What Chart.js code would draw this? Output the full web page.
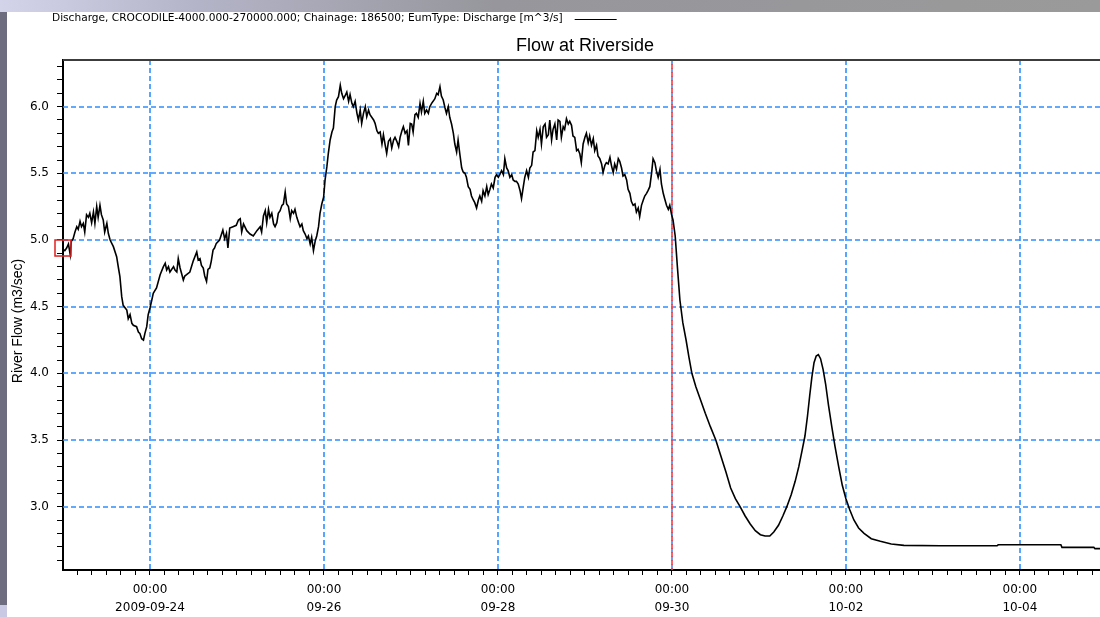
<!DOCTYPE html>
<html>
<head>
<meta charset="utf-8">
<title>Flow at Riverside</title>
<script src="https://cdn.jsdelivr.net/npm/chart.js@4.4.1/dist/chart.umd.min.js"></script>
<style>
  html, body { margin: 0; padding: 0; background: #ffffff; width: 1100px; height: 617px; overflow: hidden; }
  #wrap { position: relative; width: 1100px; height: 617px; background: #ffffff; }
  #flowChart { position: absolute; left: 0; top: 0; }
  #topbar { position: absolute; left: 0; top: 0; width: 1100px; height: 12px; z-index: 2;
            background: linear-gradient(to right, #d3d3ea 0%, #b4b4c8 18%, #96969c 45%, #9a9a9a 100%); }
  #leftbar { position: absolute; left: 0; top: 12px; width: 7px; height: 593px; z-index: 2; background: #6e6c7f; }
  #corner { position: absolute; left: 0; top: 605px; width: 7px; height: 12px; z-index: 2; background: #c9c9e4; }
</style>
</head>
<body>
<div id="wrap">
  <canvas id="flowChart" width="1100" height="617"></canvas>
  <div id="topbar"></div>
  <div id="leftbar"></div>
  <div id="corner"></div>
</div>
<script>
// ---- Text ----
const chartTitle = 'Flow at Riverside';
const seriesLabel = 'Discharge, CROCODILE-4000.000-270000.000; Chainage: 186500; EumType: Discharge [m^3/s]';
const yAxisTitle = 'River Flow (m3/sec)';

// ---- Time axis: hours since 2009-09-23 00:00 ----
const xLabelHours = [24, 72, 120, 168, 216, 264];
const xLabelTimes = ['00:00', '00:00', '00:00', '00:00', '00:00', '00:00'];
const xLabelDates = ['2009-09-24', '09-26', '09-28', '09-30', '10-02', '10-04'];
const currentTimeHour = 168;   // 2009-09-30 00:00

// ---- Value axis ----
const yLabelValues = [3.0, 3.5, 4.0, 4.5, 5.0, 5.5, 6.0];

// ---- Discharge series (m3/sec), hours since 2009-09-23 00:00 ----
const hours0923 = [
  0, 0.5, 1.0, 1.5, 2.0, 2.3, 2.8, 3.3, 3.8, 4.2,
  4.7, 5.1, 5.6, 6.0, 6.5, 7.0, 7.4, 7.9, 8.4, 8.8,
  9.3, 9.7, 10.2, 10.6, 11.1, 11.5, 12.1, 12.5, 13.0, 13.9,
  14.8, 15.3, 15.7, 16.2, 16.6, 17.6, 18.0, 18.5, 19.0, 19.4,
  20.3, 20.8, 21.2, 21.7, 22.2, 22.6, 23.1, 23.5, 24.0, 24.5,
  24.9, 25.8, 26.8, 27.7, 28.2, 28.6, 29.1, 29.5, 30.5, 30.9,
  31.4, 31.8, 32.3, 32.7, 33.2, 33.6, 34.1, 35.0, 35.9, 36.9,
  37.3, 37.8, 38.2, 38.7, 39.1, 39.6, 40.0, 40.5, 40.9, 41.4,
  41.8, 42.3, 43.2, 44.1, 44.6, 45.1, 45.5, 46.0, 46.9, 47.8,
  48.4
];
const flow0923 = [
  4.93, 4.92, 4.94, 4.97, 4.89, 4.99, 5.01, 5.06, 5.10, 5.08,
  5.14, 5.10, 5.125, 5.06, 5.19, 5.17, 5.20, 5.13, 5.21, 5.125,
  5.25, 5.17, 5.26, 5.19, 5.15, 5.06, 5.125, 5.05, 5.00, 4.95,
  4.875, 4.79, 4.725, 4.575, 4.51, 4.475, 4.41, 4.44, 4.375, 4.36,
  4.35, 4.31, 4.30, 4.26, 4.25, 4.30, 4.35, 4.44, 4.49, 4.55,
  4.60, 4.64, 4.74, 4.80, 4.825, 4.775, 4.80, 4.76, 4.80, 4.775,
  4.76, 4.86, 4.79, 4.75, 4.70, 4.73, 4.74, 4.76, 4.84, 4.91,
  4.85, 4.86, 4.81, 4.79, 4.73, 4.69, 4.78, 4.79, 4.84, 4.925,
  4.94, 4.975, 5.00, 5.075, 5.01, 5.05, 4.94, 5.09, 5.10, 5.11,
  5.15
];

const hours0925 = [
  48.9, 49.3, 49.8, 50.7, 51.6, 52.5, 53.5, 54.4, 54.8, 55.3,
  55.8, 56.2, 56.7, 57.1, 57.6, 58.1, 58.5, 59.0, 59.4, 59.9,
  60.4, 60.8, 61.3, 61.7, 62.2, 62.7, 63.1, 63.6, 64.0, 64.5,
  65.0, 65.4, 65.9, 66.3, 66.8, 67.3, 67.7, 68.2, 68.6, 69.1,
  69.6, 70.0, 70.5, 70.9, 71.4, 71.9, 72.3, 72.8, 73.2, 73.7,
  74.2, 74.6, 75.1, 75.5, 76.0, 76.5, 76.9, 77.4, 77.8, 78.3,
  78.8, 79.2, 79.7, 80.1, 80.6, 81.1, 81.5, 82.0, 82.4, 82.9,
  83.4, 83.8, 84.3, 84.7, 85.7, 86.1, 86.6, 87.0, 87.5, 88.0,
  88.4, 88.9, 89.3, 89.8, 90.3, 90.7, 91.2, 91.6, 92.1, 92.6,
  93.0, 93.5, 93.9, 94.4, 94.9, 95.3, 95.8
];
const flow0925 = [
  5.16, 5.06, 5.12, 5.07, 5.045, 5.03, 5.07, 5.10, 5.06, 5.18,
  5.22, 5.13, 5.23, 5.17, 5.20, 5.12, 5.10, 5.13, 5.20, 5.22,
  5.26, 5.27, 5.36, 5.27, 5.25, 5.16, 5.22, 5.20, 5.23, 5.17,
  5.13, 5.10, 5.12, 5.07, 5.045, 5.01, 5.03, 4.97, 5.02, 4.92,
  4.995, 5.03, 5.10, 5.20, 5.27, 5.32, 5.45, 5.55, 5.65, 5.75,
  5.81, 5.84, 6.00, 6.05, 6.075, 6.16, 6.10, 6.06, 6.08, 6.11,
  6.04, 6.09, 6.025, 6.00, 6.04, 5.95, 5.90, 5.975, 5.875, 5.95,
  6.00, 5.925, 5.975, 5.94, 5.90, 5.875, 5.82, 5.80, 5.81, 5.72,
  5.79, 5.71, 5.65, 5.74, 5.76, 5.69, 5.75, 5.77, 5.74, 5.70,
  5.77, 5.82, 5.85, 5.80, 5.82, 5.71, 5.875
];

const hours0927 = [
  96.2, 96.6, 97.1, 97.5, 98.0, 98.5, 98.9, 99.4, 99.8, 100.3,
  100.8, 101.2, 101.7, 102.1, 102.6, 103.1, 103.5, 104.0, 104.4, 104.9,
  105.4, 105.8, 106.3, 106.7, 107.2, 107.7, 108.1, 108.6, 109.0, 109.5,
  110.0, 110.4, 110.9, 111.3, 111.8, 112.3, 112.7, 113.2, 113.6, 114.1,
  114.6, 115.0, 115.5, 115.9, 116.4, 116.9, 117.3, 117.8, 118.2, 118.7,
  119.2, 119.6, 120.1, 120.5, 121.0, 121.5, 121.9, 122.4, 122.8, 123.3,
  123.8, 124.2, 124.7, 125.1, 125.6, 126.1, 126.5, 127.0, 127.4, 127.9,
  128.4, 128.8, 129.3, 129.7, 130.2, 130.7, 131.1, 131.6, 132.0, 132.5,
  133.0, 133.4, 133.9, 134.3, 134.8, 135.2, 135.7, 136.2, 136.6
];
const flow0927 = [
  5.87, 5.81, 5.94, 5.95, 5.92, 6.025, 5.96, 6.04, 5.95, 5.975,
  5.95, 6.00, 6.025, 6.04, 6.06, 6.10, 6.09, 6.15, 6.08, 6.05,
  5.99, 5.95, 6.00, 5.92, 5.87, 5.80, 5.72, 5.66, 5.75, 5.64,
  5.54, 5.51, 5.50, 5.47, 5.40, 5.38, 5.33, 5.30, 5.28, 5.24,
  5.30, 5.33, 5.29, 5.37, 5.33, 5.40, 5.34, 5.38, 5.42, 5.39,
  5.47, 5.49, 5.47, 5.49, 5.52, 5.49, 5.61, 5.54, 5.52, 5.47,
  5.49, 5.45, 5.44, 5.44, 5.42, 5.37, 5.31, 5.40, 5.47, 5.52,
  5.47, 5.54, 5.56, 5.66, 5.67, 5.82, 5.77, 5.83, 5.72, 5.85,
  5.87, 5.77, 5.79, 5.90, 5.75, 5.83, 5.87, 5.75, 5.90
];

const hours0928 = [
  137.1, 137.5, 138.0, 138.4, 138.9, 139.4, 139.8, 140.3, 140.7, 141.2,
  141.7, 142.1, 142.6, 143.0, 143.5, 144.0, 144.4, 144.9, 145.3, 145.8,
  146.3, 146.7, 147.2, 147.6, 148.1, 148.6, 149.0, 149.5, 149.9, 150.4,
  150.9, 151.3, 151.8, 152.2, 152.7, 153.2, 153.6, 154.1, 154.5, 155.0,
  155.5, 155.9, 156.4, 156.8, 157.3, 157.8, 158.2, 158.7, 159.1, 159.6,
  160.1, 160.5, 161.0, 161.4, 161.9, 162.4, 162.8, 163.3, 163.7, 164.2,
  164.7, 165.1, 165.6, 166.0, 166.5, 167.0, 167.4, 167.9
];
const flow0928 = [
  5.89, 5.77, 5.85, 5.83, 5.91, 5.87, 5.89, 5.86, 5.78, 5.77,
  5.67, 5.68, 5.645, 5.58, 5.72, 5.77, 5.80, 5.73, 5.78, 5.71,
  5.76, 5.67, 5.71, 5.63, 5.61, 5.57, 5.505, 5.56, 5.58, 5.57,
  5.62, 5.56, 5.505, 5.57, 5.53, 5.61, 5.59, 5.54, 5.48, 5.49,
  5.45, 5.38, 5.35, 5.29, 5.26, 5.27, 5.21, 5.24, 5.175, 5.26,
  5.30, 5.33, 5.35, 5.37, 5.40, 5.505, 5.61, 5.58, 5.52, 5.47,
  5.53, 5.42, 5.35, 5.31, 5.26, 5.23, 5.26, 5.19
];

const hours0930 = [
  168.3, 168.9, 169.5, 170.2, 171.0, 171.9, 172.7, 173.5, 174.6, 175.9,
  177.2, 178.6, 180.1, 181.5, 182.9, 184.2, 185.5, 186.8, 188.2, 189.6,
  191.0, 192.4, 193.7, 195.0, 196.1, 197.4, 198.6, 199.7, 200.9, 202.0,
  203.0, 203.9, 204.7, 205.4, 206.0, 206.6, 207.2, 207.8, 208.4, 209.0,
  209.7, 210.4, 211.2, 212.1, 213.0, 214.0, 215.0, 216.0, 217.0, 218.2,
  219.5, 221.0, 223.0, 225.5, 228.5, 232.0, 242.0, 257.7, 258.0, 275.3,
  275.6, 284.4, 284.7, 286.1
];
const flow0930 = [
  5.15, 5.03, 4.80, 4.55, 4.38, 4.25, 4.12, 4.00, 3.90, 3.80,
  3.70, 3.60, 3.50, 3.38, 3.26, 3.14, 3.06, 3.00, 2.93, 2.87,
  2.82, 2.79, 2.78, 2.78, 2.81, 2.86, 2.93, 3.00, 3.09, 3.19,
  3.30, 3.42, 3.53, 3.68, 3.83, 3.97, 4.08, 4.13, 4.14, 4.11,
  4.03, 3.92, 3.76, 3.60, 3.45, 3.30, 3.16, 3.06, 2.98, 2.90,
  2.84, 2.80, 2.76, 2.74, 2.72, 2.71, 2.707, 2.707, 2.714, 2.714,
  2.695, 2.695, 2.685, 2.685
];

// ---- Assemble points ----
const hourSets = [hours0923, hours0925, hours0927, hours0928, hours0930];
const flowSets = [flow0923, flow0925, flow0927, flow0928, flow0930];
const points = [];
hourSets.forEach((hs, k) => {
  hs.forEach((h, i) => points.push({ x: h, y: flowSets[k][i] }));
});

// Axis ranges
const X_MIN = 0, X_MAX = 286.1;
const Y_MIN = 2.525, Y_MAX = 6.35;

// Tick positions: every 4 h on the time axis, every 0.1 on the value axis
const xTickHours = [];
for (let h = 4; h < X_MAX; h += 4) xTickHours.push(h);
const yTickValues = [];
for (let k = 26; k <= 63; k++) yTickValues.push(k / 10);

const GRID_BLUE = '#2f8fff';
const isYLabel = v => yLabelValues.some(y => Math.abs(y - v) < 1e-6);

// Dashed grid, current-time marker, header, axis title, frame line and start box
const decorations = {
  id: 'decorations',
  beforeDatasetsDraw(chart) {
    const { ctx, chartArea: a, scales: { x, y } } = chart;
    ctx.save();
    ctx.lineWidth = 1.6;
    ctx.strokeStyle = GRID_BLUE;
    ctx.setLineDash([5, 3]);
    xLabelHours.forEach(h => {
      const px = Math.round(x.getPixelForValue(h));
      ctx.beginPath();
      ctx.moveTo(px, a.top);
      ctx.lineTo(px, a.bottom);
      ctx.stroke();
    });
    yLabelValues.forEach(v => {
      const py = Math.round(y.getPixelForValue(v));
      ctx.beginPath();
      ctx.moveTo(a.left, py);
      ctx.lineTo(a.right, py);
      ctx.stroke();
    });
    // current time line, interleaved with the blue dashes
    const cx = Math.round(x.getPixelForValue(currentTimeHour));
    ctx.strokeStyle = '#ff3c3c';
    ctx.lineDashOffset = -4;
    ctx.setLineDash([5, 3]);
    ctx.beginPath();
    ctx.moveTo(cx, a.top);
    ctx.lineTo(cx, a.bottom);
    ctx.stroke();
    ctx.restore();
  },
  afterDraw(chart) {
    const { ctx, chartArea: a, scales: { x, y } } = chart;
    ctx.save();
    // top frame of the plot
    ctx.strokeStyle = '#3c3c3c';
    ctx.lineWidth = 2;
    ctx.beginPath();
    ctx.moveTo(a.left, a.top);
    ctx.lineTo(a.right, a.top);
    ctx.stroke();

    // series label with line sample
    ctx.fillStyle = '#000';
    ctx.font = '10.6px "DejaVu Sans"';
    ctx.textBaseline = 'middle';
    ctx.textAlign = 'left';
    const label = chart.data.datasets[0].label;
    ctx.fillText(label, 52, 18);
    const w = ctx.measureText(label).width;
    ctx.strokeStyle = '#000';
    ctx.lineWidth = 1;
    ctx.beginPath();
    ctx.moveTo(52 + w + 12, 19.5);
    ctx.lineTo(52 + w + 54, 19.5);
    ctx.stroke();

    // chart title
    ctx.font = '18px "Liberation Sans"';
    ctx.textAlign = 'center';
    ctx.fillText(chartTitle, 585, 46);

    // value axis title
    ctx.save();
    ctx.translate(18, 321);
    ctx.rotate(-Math.PI / 2);
    ctx.font = '14px "Liberation Sans"';
    ctx.textAlign = 'center';
    ctx.textBaseline = 'middle';
    ctx.fillText(yAxisTitle, 0, 0);
    ctx.restore();

    // start-of-simulation box
    const p0 = points[0];
    const bx = x.getPixelForValue(p0.x);
    const by = y.getPixelForValue(p0.y);
    ctx.strokeStyle = '#e02020';
    ctx.lineWidth = 1.5;
    ctx.strokeRect(Math.round(bx) - 8, Math.round(by) - 9, 16, 16);
    ctx.restore();
  }
};

new Chart(document.getElementById('flowChart'), {
  type: 'line',
  data: {
    datasets: [{
      label: seriesLabel,
      data: points,
      borderColor: '#000000',
      borderWidth: 1.6,
      pointRadius: 0,
      tension: 0,
      fill: false
    }]
  },
  options: {
    responsive: false,
    animation: false,
    devicePixelRatio: 1,
    layout: { padding: { top: 60, right: 0, bottom: 0, left: 0 } },
    plugins: {
      legend: { display: false },
      title: { display: false },
      tooltip: { enabled: false }
    },
    scales: {
      x: {
        type: 'linear',
        min: X_MIN,
        max: X_MAX,
        afterBuildTicks: s => { s.ticks = xTickHours.map(v => ({ value: v })); },
        afterFit: s => { s.height = 47; },
        grid: {
          drawOnChartArea: false,
          drawTicks: true,
          tickLength: 5,
          tickColor: '#000',
          tickWidth: 1
        },
        border: { display: true, color: '#000', width: 2 },
        ticks: {
          autoSkip: false,
          maxRotation: 0,
          minRotation: 0,
          padding: 6,
          color: '#000',
          font: { family: 'DejaVu Sans', size: 12, lineHeight: 1.5 },
          callback: v => {
            const i = xLabelHours.findIndex(h => Math.abs(h - v) < 1e-6);
            return i >= 0 ? [xLabelTimes[i], xLabelDates[i]] : '';
          }
        }
      },
      y: {
        type: 'linear',
        min: Y_MIN,
        max: Y_MAX,
        afterBuildTicks: s => { s.ticks = yTickValues.map(v => ({ value: v })); },
        afterFit: s => { s.width = 63; },
        grid: {
          drawOnChartArea: false,
          drawTicks: true,
          tickLength: 6,
          tickColor: '#000',
          tickWidth: 1
        },
        border: { display: true, color: '#000', width: 2 },
        ticks: {
          autoSkip: false,
          padding: 8,
          color: '#000',
          font: { family: 'DejaVu Sans', size: 12 },
          callback: v => isYLabel(v) ? v.toFixed(1) : ''
        },
        title: { display: false }
      }
    }
  },
  plugins: [decorations]
});
</script>
</body>
</html>
